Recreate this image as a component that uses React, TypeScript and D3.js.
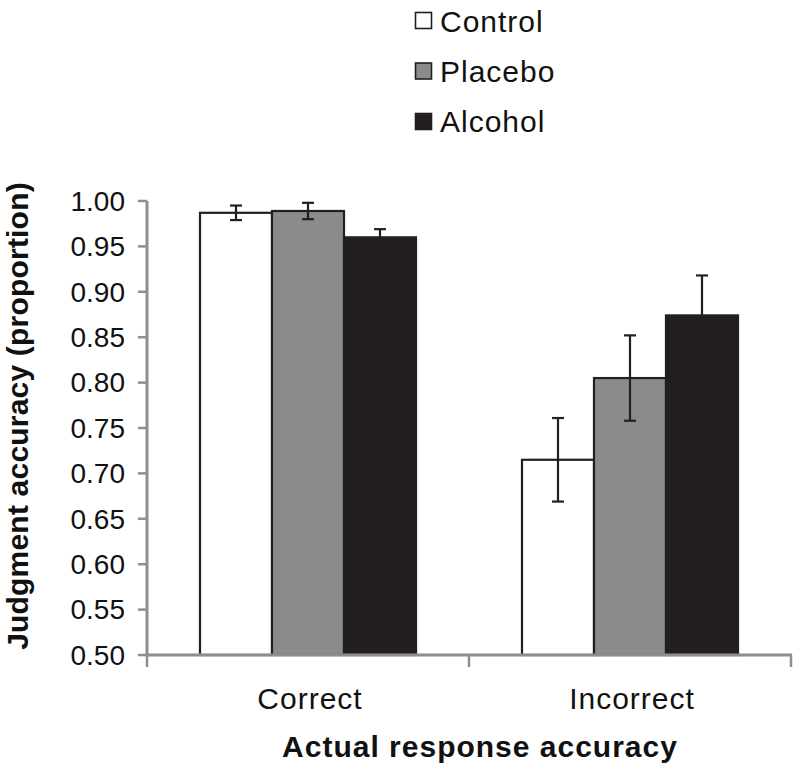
import React from "react";
import * as d3 from "d3";

const categories = ["Correct", "Incorrect"];
const series = ["Control", "Placebo", "Alcohol"];
const colors = ["#ffffff", "#8b8b8d", "#231f20"];
const correctValues = [0.987, 0.989, 0.960];
const correctErrors = [0.008, 0.009, 0.009];
const incorrectValues = [0.715, 0.805, 0.874];
const incorrectErrors = [0.046, 0.047, 0.044];
const yTicks = [0.5, 0.55, 0.6, 0.65, 0.7, 0.75, 0.8, 0.85, 0.9, 0.95, 1.0];

const values = [correctValues, incorrectValues];
const errors = [correctErrors, incorrectErrors];

const FONT = "'Liberation Sans', Arial, Helvetica, sans-serif";

export default function App() {
  const W = 800;
  const H = 772;
  const y = d3.scaleLinear().domain([0.5, 1.0]).range([655, 201]);
  const x0 = d3.scaleBand().domain(categories).range([147, 791]).padding(0);
  const x1 = d3
    .scaleBand()
    .domain(series)
    .range([0, x0.bandwidth()])
    .paddingInner(0)
    .paddingOuter(0.736);
  const axisColor = "#8e8e90";
  const dark = "#231f20";
  const boundaries = [147, ...categories.map((c) => (x0(c) as number) + x0.bandwidth())];

  return (
    <svg width={W} height={H} style={{ position: "absolute", left: 0, top: 0, background: "#fff" }}>
      {/* legend */}
      {series.map((s, i) => (
        <g key={s}>
          <rect x={415.5} y={12.5 + i * 50.5} width={16} height={16} fill={colors[i]} stroke={dark} strokeWidth={1.6} />
          <text x={440} y={32 + i * 50} fontFamily={FONT} fontSize={30} letterSpacing={1} fill="#111">
            {s}
          </text>
        </g>
      ))}

      {/* y axis */}
      <line x1={147} x2={147} y1={y(1.0)} y2={y(0.5)} stroke={axisColor} strokeWidth={3} />
      {yTicks.map((t) => (
        <g key={t}>
          <line x1={138} x2={147} y1={y(t)} y2={y(t)} stroke={axisColor} strokeWidth={2.5} />
          <text x={125} y={y(t)} dy="0.35em" textAnchor="end" fontFamily={FONT} fontSize={28} fill="#111">
            {t.toFixed(2)}
          </text>
        </g>
      ))}

      {/* bars */}
      {categories.map((c, ci) => (
        <g key={c} transform={`translate(${x0(c)},0)`}>
          {series.map((s, si) => {
            const v = values[ci][si];
            const bx = x1(s) as number;
            return (
              <rect
                key={s}
                x={bx}
                y={y(v)}
                width={x1.bandwidth()}
                height={y(0.5) - y(v)}
                fill={colors[si]}
                stroke={dark}
                strokeWidth={2.2}
              />
            );
          })}
          {series.map((s, si) => {
            const v = values[ci][si];
            const e = errors[ci][si];
            const cx = (x1(s) as number) + x1.bandwidth() / 2;
            return (
              <g key={s + "err"} stroke={dark} strokeWidth={2.2}>
                <line x1={cx} x2={cx} y1={y(v + e)} y2={y(v - e)} />
                <line x1={cx - 6} x2={cx + 6} y1={y(v + e)} y2={y(v + e)} />
                <line x1={cx - 6} x2={cx + 6} y1={y(v - e)} y2={y(v - e)} />
              </g>
            );
          })}
        </g>
      ))}

      {/* x axis */}
      <line x1={145.5} x2={792} y1={655} y2={655} stroke={axisColor} strokeWidth={3} />
      {boundaries.map((b, i) => (
        <line key={i} x1={b} x2={b} y1={655} y2={667} stroke={axisColor} strokeWidth={2.5} />
      ))}
      {categories.map((c) => (
        <text
          key={c}
          x={(x0(c) as number) + x0.bandwidth() / 2 + 2}
          y={709}
          textAnchor="middle"
          fontFamily={FONT}
          fontSize={30}
          letterSpacing={1}
          fill="#111"
        >
          {c}
        </text>
      ))}

      {/* axis titles */}
      <text x={480} y={757} textAnchor="middle" fontFamily={FONT} fontSize={30} fontWeight="bold" letterSpacing={1} fill="#111">
        Actual response accuracy
      </text>
      <text
        transform={`translate(28,416) rotate(-90)`}
        textAnchor="middle"
        fontFamily={FONT}
        fontSize={30}
        fontWeight="bold"
        letterSpacing={0.2}
        fill="#111"
      >
        Judgment accuracy (proportion)
      </text>
    </svg>
  );
}
